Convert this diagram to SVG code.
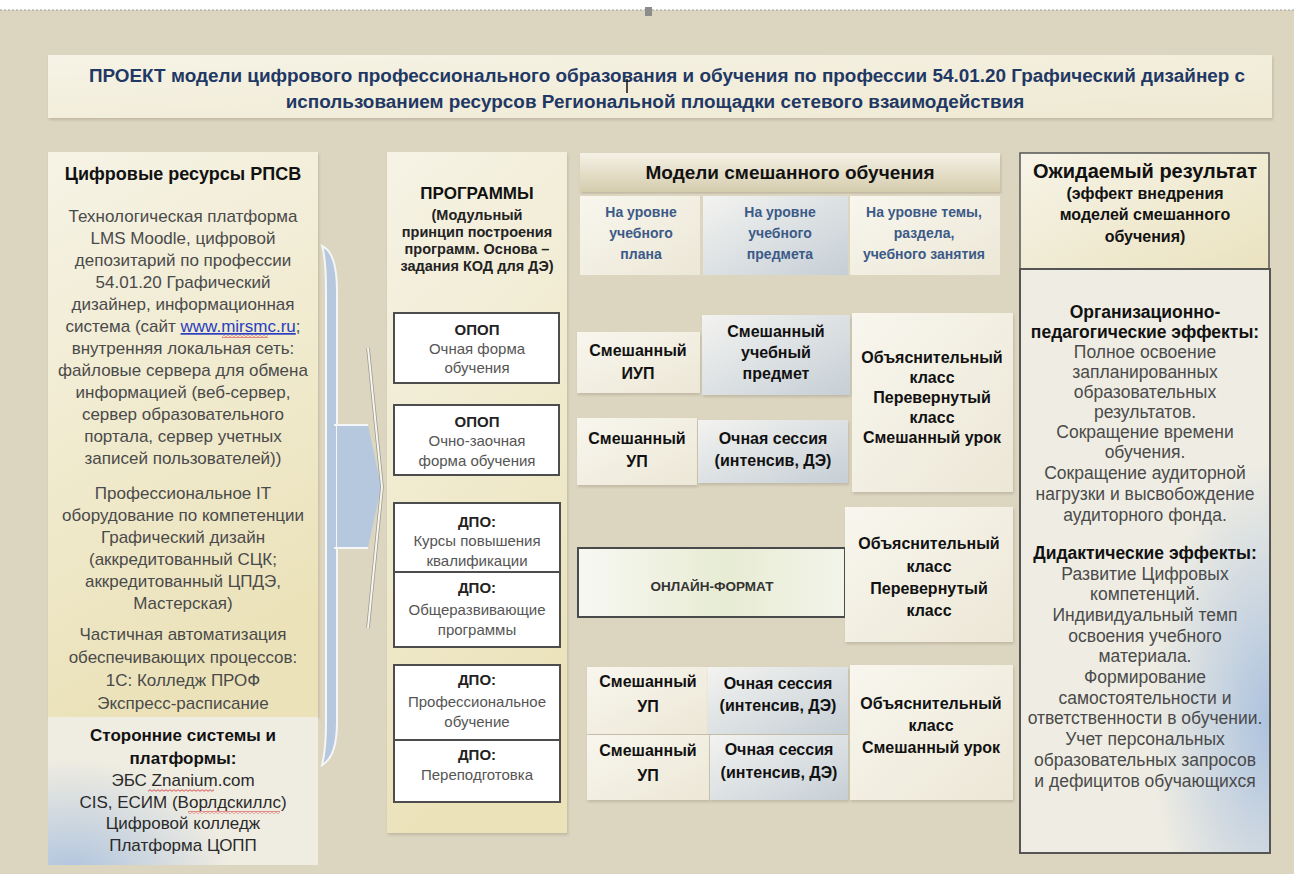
<svg xmlns="http://www.w3.org/2000/svg" width="1294" height="874" viewBox="0 0 1294 874">
<defs>
<style>
text{font-family:"Liberation Sans",Arial,sans-serif;text-anchor:middle}
.ttl{font-size:18.9px;font-weight:bold;fill:#1f3864}
.h{font-weight:bold;fill:#111}
.lb{font-size:17px;fill:#4a4a4a}
.ll{font-size:17px;fill:#2a2a2a}
.ph{font-size:14.5px;font-weight:bold;fill:#222}
.pb{font-size:15px;fill:#555}
.pk{font-size:15px;font-weight:bold;fill:#222}
.bl{font-size:14px;font-weight:bold;fill:#3c5a87}
.bx{font-size:16px;font-weight:bold;fill:#111}
.rb{font-size:17.5px;fill:#4a4a4a}
.rbh{font-size:17.5px;font-weight:bold;fill:#111}
.box{stroke:#4d4d4d;stroke-width:2;fill:#fff}
.sq{fill:url(#wave)}
</style>
<pattern id="wave" x="0" y="0" width="4" height="3" patternUnits="userSpaceOnUse"><path d="M0 2.3 L2 0.7 L4 2.3" stroke="#d23a3a" fill="none" stroke-width="0.9"/></pattern>
<linearGradient id="gPanel" x1="0" y1="0" x2="0.25" y2="1"><stop offset="0" stop-color="#f6f3e6"/><stop offset="1" stop-color="#ebe2b9"/></linearGradient>
<linearGradient id="gCream" x1="0" y1="0" x2="1" y2="1"><stop offset="0" stop-color="#f8f6ee"/><stop offset="1" stop-color="#ece7d6"/></linearGradient>
<linearGradient id="gBlue" x1="0" y1="0" x2="1" y2="1"><stop offset="0" stop-color="#f3f3f0"/><stop offset="1" stop-color="#c6cfd6"/></linearGradient>
<linearGradient id="gHead" x1="0" y1="0" x2="0" y2="1"><stop offset="0" stop-color="#f5f2e6"/><stop offset="1" stop-color="#d5ccad"/></linearGradient>
<linearGradient id="gTitle" x1="0" y1="0" x2="1" y2="1"><stop offset="0" stop-color="#f6f3e6"/><stop offset="1" stop-color="#efe9d2"/></linearGradient>
<linearGradient id="gOnline" x1="0" y1="0" x2="1" y2="0"><stop offset="0" stop-color="#f8f8f3"/><stop offset="0.55" stop-color="#e7ecd3"/><stop offset="1" stop-color="#f3f4ea"/></linearGradient>
<linearGradient id="gRHead" x1="0" y1="0" x2="1" y2="1"><stop offset="0" stop-color="#f7f4e8"/><stop offset="1" stop-color="#eae2bf"/></linearGradient>
<radialGradient id="gBlueBlur" cx="0.5" cy="0.5" r="0.5"><stop offset="0" stop-color="#a9c0de" stop-opacity="0.95"/><stop offset="1" stop-color="#a9c0de" stop-opacity="0"/></radialGradient>
<filter id="sh" x="-5%" y="-5%" width="110%" height="110%"><feDropShadow dx="1" dy="2" stdDeviation="1.5" flood-color="#8a8270" flood-opacity="0.35"/></filter>
<clipPath id="cLow"><rect x="48" y="717" width="270" height="148"/></clipPath>
<clipPath id="cRB"><rect x="1020" y="269" width="250" height="584"/></clipPath>
</defs>

<rect x="0" y="0" width="1294" height="874" fill="#fff"/>
<rect x="0" y="10" width="1294" height="864" fill="#dcd5c0"/>
<line x1="0" y1="10" x2="1294" y2="10" stroke="#9a9a9a" stroke-width="1" stroke-dasharray="2,2"/>
<rect x="645" y="7" width="7" height="9" fill="#8c8c8c"/>

<g id="title">
<rect x="48" y="55" width="1224" height="63" fill="url(#gTitle)" filter="url(#sh)"/>
<text class="ttl" x="667" y="82">ПРОЕКТ модели цифрового профессионального образования и обучения по профессии 54.01.20 Графический дизайнер с</text>
<text class="ttl" x="655" y="108">использованием ресурсов Региональной площадки сетевого взаимодействия</text>
<line x1="627" y1="79" x2="627" y2="93" stroke="#111" stroke-width="1.5"/>
</g>

<g id="resources">
<rect x="48" y="152" width="270" height="565" fill="url(#gPanel)" filter="url(#sh)"/>
<rect x="48" y="717" width="270" height="148" fill="#efece1"/>
<ellipse cx="70" cy="880" rx="160" ry="120" fill="url(#gBlueBlur)" clip-path="url(#cLow)"/>
<text class="h" x="183" y="180" font-size="18">Цифровые ресурсы РПСВ</text>
<text class="lb" x="183" y="222">Технологическая платформа</text>
<text class="lb" x="183" y="244">LMS Moodle, цифровой</text>
<text class="lb" x="183" y="266">депозитарий по профессии</text>
<text class="lb" x="183" y="288">54.01.20 Графический</text>
<text class="lb" x="183" y="310">дизайнер, информационная</text>
<text class="lb" x="183" y="332">система (сайт <tspan fill="#2a3fc0" text-decoration="underline">www.mirsmc.ru</tspan>;</text>
<rect class="sq" x="222" y="335" width="46" height="3"/>
<text class="lb" x="183" y="354">внутренняя локальная сеть:</text>
<text class="lb" x="183" y="376">файловые сервера для обмена</text>
<text class="lb" x="183" y="398">информацией (веб-сервер,</text>
<text class="lb" x="183" y="420">сервер образовательного</text>
<text class="lb" x="183" y="442">портала, сервер учетных</text>
<text class="lb" x="183" y="464">записей пользователей))</text>
<text class="lb" x="183" y="499">Профессиональное IT</text>
<text class="lb" x="183" y="521">оборудование по компетенции</text>
<text class="lb" x="183" y="543">Графический дизайн</text>
<text class="lb" x="183" y="565">(аккредитованный СЦК;</text>
<text class="lb" x="183" y="587">аккредитованный ЦПДЭ,</text>
<text class="lb" x="183" y="609">Мастерская)</text>
<text class="lb" x="183" y="640">Частичная автоматизация</text>
<text class="lb" x="183" y="663">обеспечивающих процессов:</text>
<text class="lb" x="183" y="686">1С: Колледж ПРОФ</text>
<text class="lb" x="183" y="709">Экспресс-расписание</text>
<text class="h" x="183" y="741" font-size="17">Сторонние системы и</text>
<text class="h" x="183" y="764" font-size="17">платформы:</text>
<text class="ll" x="183" y="786">ЭБС Znanium.com</text>
<rect class="sq" x="148" y="789" width="66" height="3"/>
<text class="ll" x="183" y="808">CIS, ЕСИМ (Ворлдскиллс)</text>
<rect class="sq" x="188" y="811" width="92" height="3"/>
<text class="ll" x="183" y="829">Цифровой колледж</text>
<text class="ll" x="183" y="851">Платформа ЦОПП</text>
</g>

<g id="connectors">
<path d="M322 246 Q337 252 337 292 L337 722 Q337 757 322 765 Q326 750 326 722 L326 292 Q326 258 322 246 Z" fill="#b5c8dd" stroke="#f4f6f8" stroke-width="2"/>
<path d="M337 425 L368 425 L381 487 L368 548 L337 548 Z" fill="#b5c8dd"/>
<line x1="334" y1="425" x2="368" y2="425" stroke="#f4f6f8" stroke-width="2"/>
<line x1="334" y1="548" x2="368" y2="548" stroke="#f4f6f8" stroke-width="2"/>
<polyline points="368,348 382,487 368,628" fill="none" stroke="#9d988a" stroke-width="3.5"/>
<polyline points="368,348 382,487 368,628" fill="none" stroke="#f5f5f2" stroke-width="2"/>
</g>

<g id="programs">
<rect x="387" y="152" width="180" height="681" fill="url(#gPanel)" filter="url(#sh)"/>
<text class="h" x="477" y="199" font-size="17">ПРОГРАММЫ</text>
<text class="ph" x="477" y="220">(Модульный</text>
<text class="ph" x="477" y="237">принцип построения</text>
<text class="ph" x="477" y="254">программ. Основа –</text>
<text class="ph" x="477" y="271">задания КОД для ДЭ)</text>
</g>
<g id="opop1">
<rect class="box" x="394" y="313" width="165" height="70"/>
<text class="pk" x="477" y="335">ОПОП</text>
<text class="pb" x="477" y="354">Очная форма</text>
<text class="pb" x="477" y="373">обучения</text>
</g>
<g id="opop2">
<rect class="box" x="394" y="405" width="165" height="70"/>
<text class="pk" x="477" y="427">ОПОП</text>
<text class="pb" x="477" y="446">Очно-заочная</text>
<text class="pb" x="477" y="466">форма обучения</text>
</g>
<g id="dpo1">
<rect class="box" x="394" y="503" width="166" height="69"/>
<text class="pk" x="477" y="527">ДПО:</text>
<text class="pb" x="477" y="546">Курсы повышения</text>
<text class="pb" x="477" y="566">квалификации</text>
</g>
<g id="dpo2">
<rect class="box" x="394" y="572" width="166" height="75"/>
<text class="pk" x="477" y="593">ДПО:</text>
<text class="pb" x="477" y="615">Общеразвивающие</text>
<text class="pb" x="477" y="635">программы</text>
</g>
<g id="dpo3">
<rect class="box" x="394" y="665" width="166" height="75"/>
<text class="pk" x="477" y="685">ДПО:</text>
<text class="pb" x="477" y="707">Профессиональное</text>
<text class="pb" x="477" y="727">обучение</text>
</g>
<g id="dpo4">
<rect class="box" x="394" y="740" width="166" height="62"/>
<text class="pk" x="477" y="760">ДПО:</text>
<text class="pb" x="477" y="780">Переподготовка</text>
</g>

<g id="models-header">
<rect x="580" y="153" width="420" height="39" fill="url(#gHead)" filter="url(#sh)"/>
<text class="h" x="790" y="179" font-size="19">Модели смешанного обучения</text>
</g>
<g id="level-plan">
<rect x="580" y="196" width="120" height="79" fill="url(#gCream)"/>
<text class="bl" x="641" y="217">На уровне</text>
<text class="bl" x="641" y="238">учебного</text>
<text class="bl" x="641" y="259">плана</text>
</g>
<g id="level-subject">
<rect x="703" y="196" width="145" height="79" fill="url(#gBlue)"/>
<text class="bl" x="780" y="217">На уровне</text>
<text class="bl" x="780" y="238">учебного</text>
<text class="bl" x="780" y="259">предмета</text>
</g>
<g id="level-topic">
<rect x="850" y="196" width="150" height="79" fill="url(#gCream)"/>
<text class="bl" x="924" y="217">На уровне темы,</text>
<text class="bl" x="924" y="238">раздела,</text>
<text class="bl" x="924" y="259">учебного занятия</text>
</g>

<g id="iup">
<rect x="577" y="332" width="123" height="61" fill="url(#gCream)" filter="url(#sh)"/>
<text class="bx" x="638" y="356">Смешанный</text>
<text class="bx" x="638" y="379">ИУП</text>
</g>
<g id="subject">
<rect x="702" y="315" width="148" height="80" fill="url(#gBlue)" filter="url(#sh)"/>
<text class="bx" x="776" y="337">Смешанный</text>
<text class="bx" x="776" y="358">учебный</text>
<text class="bx" x="776" y="379">предмет</text>
</g>
<g id="lesson1">
<rect x="852" y="313" width="161" height="179" fill="url(#gCream)" filter="url(#sh)"/>
<text class="bx" x="932" y="363">Объяснительный</text>
<text class="bx" x="932" y="383">класс</text>
<text class="bx" x="932" y="403">Перевернутый</text>
<text class="bx" x="932" y="423">класс</text>
<text class="bx" x="932" y="443">Смешанный урок</text>
</g>
<g id="up1">
<rect x="577" y="418" width="120" height="67" fill="url(#gCream)" filter="url(#sh)"/>
<text class="bx" x="637" y="444">Смешанный</text>
<text class="bx" x="637" y="467">УП</text>
</g>
<g id="session1">
<rect x="698" y="420" width="150" height="63" fill="url(#gBlue)" filter="url(#sh)"/>
<text class="bx" x="773" y="444">Очная сессия</text>
<text class="bx" x="773" y="466">(интенсив, ДЭ)</text>
</g>

<g id="online">
<rect x="578" y="548" width="267" height="69" fill="url(#gOnline)" stroke="#4a4a4a" stroke-width="2"/>
<text x="712" y="591" font-size="13.5" font-weight="bold" fill="#333">ОНЛАЙН-ФОРМАТ</text>
</g>
<g id="lesson2">
<rect x="845" y="507" width="168" height="135" fill="url(#gCream)" filter="url(#sh)"/>
<text class="bx" x="929" y="549">Объяснительный</text>
<text class="bx" x="929" y="572">класс</text>
<text class="bx" x="929" y="594">Перевернутый</text>
<text class="bx" x="929" y="616">класс</text>
</g>

<g id="up2">
<rect x="587" y="667" width="121" height="67" fill="url(#gCream)" filter="url(#sh)"/>
<text class="bx" x="648" y="687">Смешанный</text>
<text class="bx" x="648" y="712">УП</text>
</g>
<g id="session2">
<rect x="708" y="667" width="140" height="67" fill="url(#gBlue)" filter="url(#sh)"/>
<text class="bx" x="778" y="689">Очная сессия</text>
<text class="bx" x="778" y="711">(интенсив, ДЭ)</text>
</g>
<g id="up3">
<rect x="587" y="735" width="122" height="65" fill="url(#gCream)" filter="url(#sh)"/>
<text class="bx" x="648" y="756">Смешанный</text>
<text class="bx" x="648" y="781">УП</text>
</g>
<g id="session3">
<rect x="710" y="735" width="138" height="65" fill="url(#gBlue)" filter="url(#sh)"/>
<text class="bx" x="779" y="755">Очная сессия</text>
<text class="bx" x="779" y="778">(интенсив, ДЭ)</text>
</g>
<g id="lesson3">
<rect x="850" y="665" width="163" height="135" fill="url(#gCream)" filter="url(#sh)"/>
<text class="bx" x="931" y="709">Объяснительный</text>
<text class="bx" x="931" y="731">класс</text>
<text class="bx" x="931" y="753">Смешанный урок</text>
</g>

<g id="result-header">
<rect x="1020" y="153" width="249" height="116" fill="url(#gRHead)" stroke="#555" stroke-width="1.5"/>
<text class="h" x="1145" y="178" font-size="20">Ожидаемый результат</text>
<text class="h" x="1145" y="199" font-size="16">(эффект внедрения</text>
<text class="h" x="1145" y="220" font-size="16">моделей смешанного</text>
<text class="h" x="1145" y="242" font-size="16">обучения)</text>
</g>
<g id="result-body">
<rect x="1020" y="269" width="250" height="584" fill="#efede3" stroke="#555" stroke-width="2"/>
<ellipse cx="1270" cy="720" rx="120" ry="260" fill="url(#gBlueBlur)" clip-path="url(#cRB)"/>
<rect x="1020" y="269" width="250" height="584" fill="none" stroke="#555" stroke-width="2"/>
<text class="rbh" x="1145" y="318">Организационно-</text>
<text class="rbh" x="1145" y="338">педагогические эффекты:</text>
<text class="rb" x="1145" y="358">Полное освоение</text>
<text class="rb" x="1145" y="378">запланированных</text>
<text class="rb" x="1145" y="398">образовательных</text>
<text class="rb" x="1145" y="418">результатов.</text>
<text class="rb" x="1145" y="438">Сокращение времени</text>
<text class="rb" x="1145" y="458">обучения.</text>
<text class="rb" x="1145" y="479">Сокращение аудиторной</text>
<text class="rb" x="1145" y="500">нагрузки и высвобождение</text>
<text class="rb" x="1145" y="521">аудиторного фонда.</text>
<text class="rbh" x="1145" y="559">Дидактические эффекты:</text>
<text class="rb" x="1145" y="580">Развитие Цифровых</text>
<text class="rb" x="1145" y="600">компетенций.</text>
<text class="rb" x="1145" y="621">Индивидуальный темп</text>
<text class="rb" x="1145" y="642">освоения учебного</text>
<text class="rb" x="1145" y="662">материала.</text>
<text class="rb" x="1145" y="683">Формирование</text>
<text class="rb" x="1145" y="704">самостоятельности и</text>
<text class="rb" x="1145" y="724">ответственности в обучении.</text>
<text class="rb" x="1145" y="745">Учет персональных</text>
<text class="rb" x="1145" y="766">образовательных запросов</text>
<text class="rb" x="1145" y="787">и дефицитов обучающихся</text>
</g>
</svg>
